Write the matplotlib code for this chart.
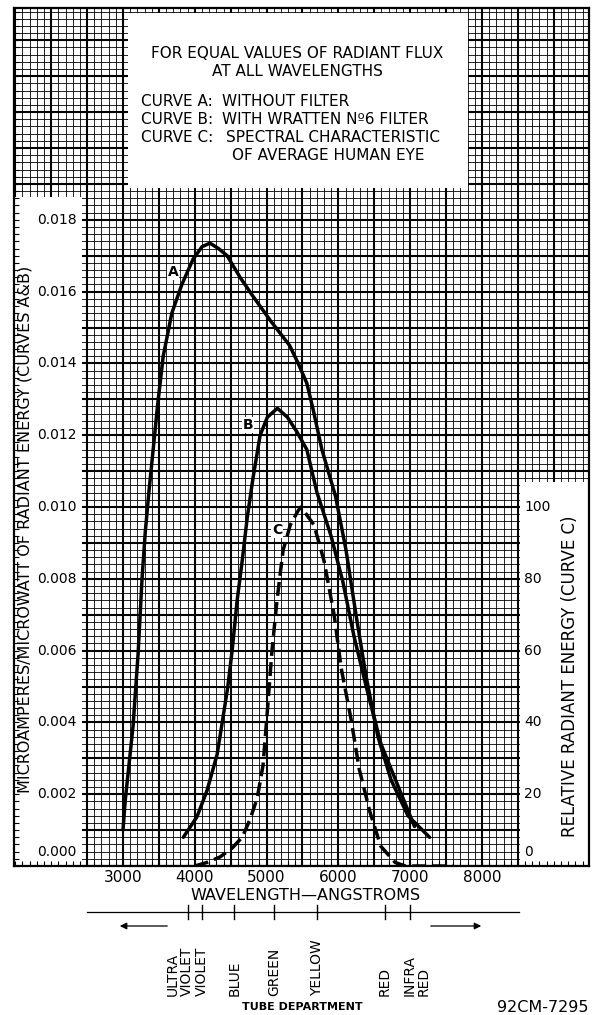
import numpy as np
import matplotlib
matplotlib.use("Agg")
import matplotlib.pyplot as plt
from matplotlib.patches import Rectangle, FancyArrowPatch
from matplotlib.transforms import blended_transform_factory, ScaledTranslation

# ---------------- data ----------------
curve_a_wl = [3000, 3030, 3140, 3210, 3265, 3310, 3360, 3420, 3480, 3560, 3680, 3820,
              3975, 4100, 4210, 4330, 4450, 4630, 4800, 5050, 5320, 5440, 5560, 5650,
              5770, 5960, 6106, 6245, 6384, 6551, 6733, 6969, 7270]
curve_a_val = [0.0010, 0.0018, 0.0039, 0.0059, 0.0080, 0.0093, 0.0104, 0.0116, 0.0128,
               0.0142, 0.0154, 0.0162, 0.0169, 0.01725, 0.01735, 0.0172, 0.0170, 0.0164,
               0.0159, 0.0152, 0.0145, 0.0140, 0.01345, 0.0127, 0.0116, 0.0103, 0.0088,
               0.0070, 0.0053, 0.0036, 0.0024, 0.0014, 0.0008]

curve_b_wl = [3840, 4030, 4170, 4310, 4390, 4460, 4520, 4590, 4660, 4730, 4810, 4910,
              5010, 5150, 5290, 5420, 5560, 5702, 5897, 6064, 6217, 6412, 6593, 6816, 7060]
curve_b_val = [0.0008, 0.00137, 0.0021, 0.0031, 0.0041, 0.0050, 0.0060, 0.0074, 0.0085,
               0.0097, 0.0108, 0.0120, 0.0125, 0.01275, 0.0125, 0.0121, 0.0116, 0.0104,
               0.0092, 0.0079, 0.0064, 0.0048, 0.0034, 0.0023, 0.0011]

curve_c_wl = [4000, 4170, 4350, 4520, 4660, 4770, 4870, 4950, 5010, 5075, 5145, 5230,
              5330, 5440, 5480, 5660, 5800, 5940, 6040, 6175, 6290, 6440, 6590, 6790,
              6930, 7600]
curve_c_pct = [0, 1, 2.5, 5, 8, 13, 19, 28, 43, 60, 74, 88, 95, 99, 100, 95, 85, 70, 55,
               41, 27, 15, 5.5, 1, 0, 0]

left_ticks = [0.000, 0.002, 0.004, 0.006, 0.008, 0.010, 0.012, 0.014, 0.016, 0.018]
right_ticks = [0, 20, 40, 60, 80, 100]
x_ticks = [3000, 4000, 5000, 6000, 7000, 8000]

band_names = ["ULTRA\nVIOLET", "VIOLET", "BLUE", "GREEN", "YELLOW", "RED", "INFRA\nRED"]
band_wl = [3900, 4100, 4550, 5100, 5700, 6650, 7000]

curve_labels = ["A", "B", "C"]
curve_label_wl = [3700, 4740, 5145]
curve_label_val = [0.01655, 0.01228, 0.00936]

# ---------------- layout helpers ----------------
W, H = 594, 1015
def fx(px):
    return px / W
def fy(py):
    return 1 - py / H

PX_PER_1000A = 71.8
def wl_of(px):
    return 3000 + (px - 123) / PX_PER_1000A * 1000
def val_of(py):
    return (866 - py) / PX_PER_1000A * 0.002

plt.rcParams['font.family'] = ['DejaVu Sans']
fig = plt.figure(figsize=(W / 100, H / 100), dpi=100)
fig.patch.set_facecolor('white')
ax = fig.add_axes([fx(14), fy(866), fx(589) - fx(14), fy(8) - fy(866)])
ax.set_xlim(wl_of(14), wl_of(589))
ax.set_ylim(0, val_of(8))
ax.set_facecolor('white')

# graph paper
for g in np.arange(1500, 9500, 100):
    major = (g % 500 == 0)
    ax.axvline(g, color='black', lw=1.5 if major else 0.6, zorder=0.5)
for i, g in enumerate(np.arange(0, 0.0240, 0.0002)):
    major = (i % 5 == 0)
    ax.axhline(g, color='black', lw=1.5 if major else 0.6, zorder=0.5)

# white label areas
def rect_px(x0, y0, x1, y1):
    r = Rectangle((wl_of(x0), val_of(y1)), wl_of(x1) - wl_of(x0), val_of(y0) - val_of(y1),
                  facecolor='white', edgecolor='none', zorder=1)
    ax.add_patch(r)
rect_px(128, 13, 468, 188)
rect_px(10, 197, 82, 870)
rect_px(520, 482, 593, 870)

# ticks along border
ax.set_xticks(np.arange(1500, 9500, 100))
ax.set_yticks(np.arange(0, 0.0240, 0.0002))
ax.tick_params(which='both', direction='in', length=3.5, width=0.8,
               left=True, right=True, bottom=True, top=False,
               labelleft=False, labelbottom=False)
for s in ax.spines.values():
    s.set_linewidth(1.6)
    s.set_zorder(4)

# curves
ax.plot(curve_a_wl, curve_a_val, color='black', lw=2.5, zorder=3,
        solid_capstyle='round', solid_joinstyle='round')
ax.plot(curve_b_wl, curve_b_val, color='black', lw=2.5, zorder=3,
        solid_capstyle='round', solid_joinstyle='round')
ax2 = ax.twinx()
ax2.set_ylim(0, val_of(8) / 0.010 * 100)
ax2.set_axis_off()
ax2.plot(curve_c_wl, curve_c_pct, color='black', lw=2.5, zorder=3, dashes=(4, 1.8))

for t, xw, yv in zip(curve_labels, curve_label_wl, curve_label_val):
    ax.text(xw, yv, t, fontsize=10, fontweight='bold', ha='center', va='center', zorder=5,
            bbox=dict(facecolor='white', edgecolor='none', pad=0.5))

# tick labels
trL = blended_transform_factory(fig.transFigure, ax.transData)
up = ScaledTranslation(0, 14 / 100, fig.dpi_scale_trans)
for v in left_ticks:
    tr = trL + up if v == 0 else trL
    ax.text(fx(77), v, f"{v:.3f}", transform=tr, ha='right', va='center', fontsize=10)
trR = blended_transform_factory(fig.transFigure, ax2.transData)
for v in right_ticks:
    tr = trR + up if v == 0 else trR
    ax2.text(fx(524), v, f"{v}", transform=tr, ha='left', va='center', fontsize=10)
trX = blended_transform_factory(ax.transData, fig.transFigure)
for v in x_ticks:
    ax.text(v, fy(878), f"{v}", transform=trX, ha='center', va='center', fontsize=11,
            clip_on=False)

# axis titles
fig.text(fx(25), fy(529), "MICROAMPERES/MICROWATT OF RADIANT ENERGY (CURVES A&B)",
         rotation=90, ha='center', va='center', fontsize=11.5)
fig.text(fx(570), fy(676), "RELATIVE RADIANT ENERGY (CURVE C)",
         rotation=90, ha='center', va='center', fontsize=12)
fig.text(fx(306), fy(895), "WAVELENGTH\u2014ANGSTROMS", ha='center', va='center', fontsize=11.5)

# box text
fig.text(fx(297), fy(53), "FOR EQUAL VALUES OF RADIANT FLUX", ha='center', va='center', fontsize=11)
fig.text(fx(297), fy(72), "AT ALL WAVELENGTHS", ha='center', va='center', fontsize=11)
rows = [("CURVE A:", "WITHOUT FILTER", 102, 222),
        ("CURVE B:", "WITH WRATTEN N\u00ba6 FILTER", 120, 222),
        ("CURVE C:", "SPECTRAL CHARACTERISTIC", 138, 226),
        ("", "OF AVERAGE HUMAN EYE", 156, 232)]
for a, b, y, xb in rows:
    if a:
        fig.text(fx(141), fy(y), a, ha='left', va='center', fontsize=11)
    fig.text(fx(xb), fy(y), b, ha='left', va='center', fontsize=11)

# spectrum band scale
fig.add_artist(plt.Line2D([fx(87), fx(519)], [fy(912), fy(912)], color='black', lw=0.9))
offsets = {"ULTRA\nVIOLET": -7.5, "INFRA\nRED": 6}
for name, wl in zip(band_names, band_wl):
    ax.plot([wl, wl], [fy(905), fy(919)], transform=trX, color='black', lw=1.0,
            clip_on=False)
    xd = ax.transData.transform((wl, 0))[0] + offsets.get(name, 0)
    fig.text(xd / W, fy(996), name, rotation=90, ha='center', va='bottom',
             multialignment='left', fontsize=10, linespacing=1.0)

fig.add_artist(FancyArrowPatch((fx(170), fy(926)), (fx(117), fy(926)),
               transform=fig.transFigure, arrowstyle='-|>', mutation_scale=10, lw=0.9,
               color='black'))
fig.add_artist(FancyArrowPatch((fx(428), fy(926)), (fx(484), fy(926)),
               transform=fig.transFigure, arrowstyle='-|>', mutation_scale=10, lw=0.9,
               color='black'))

fig.text(fx(302), fy(1007), "TUBE DEPARTMENT", ha='center', va='center', fontsize=8,
         fontweight='bold')
fig.text(fx(588), fy(1007), "92CM-7295", ha='right', va='center', fontsize=11.5)

fig.savefig("out.png", dpi=100, facecolor='white')
